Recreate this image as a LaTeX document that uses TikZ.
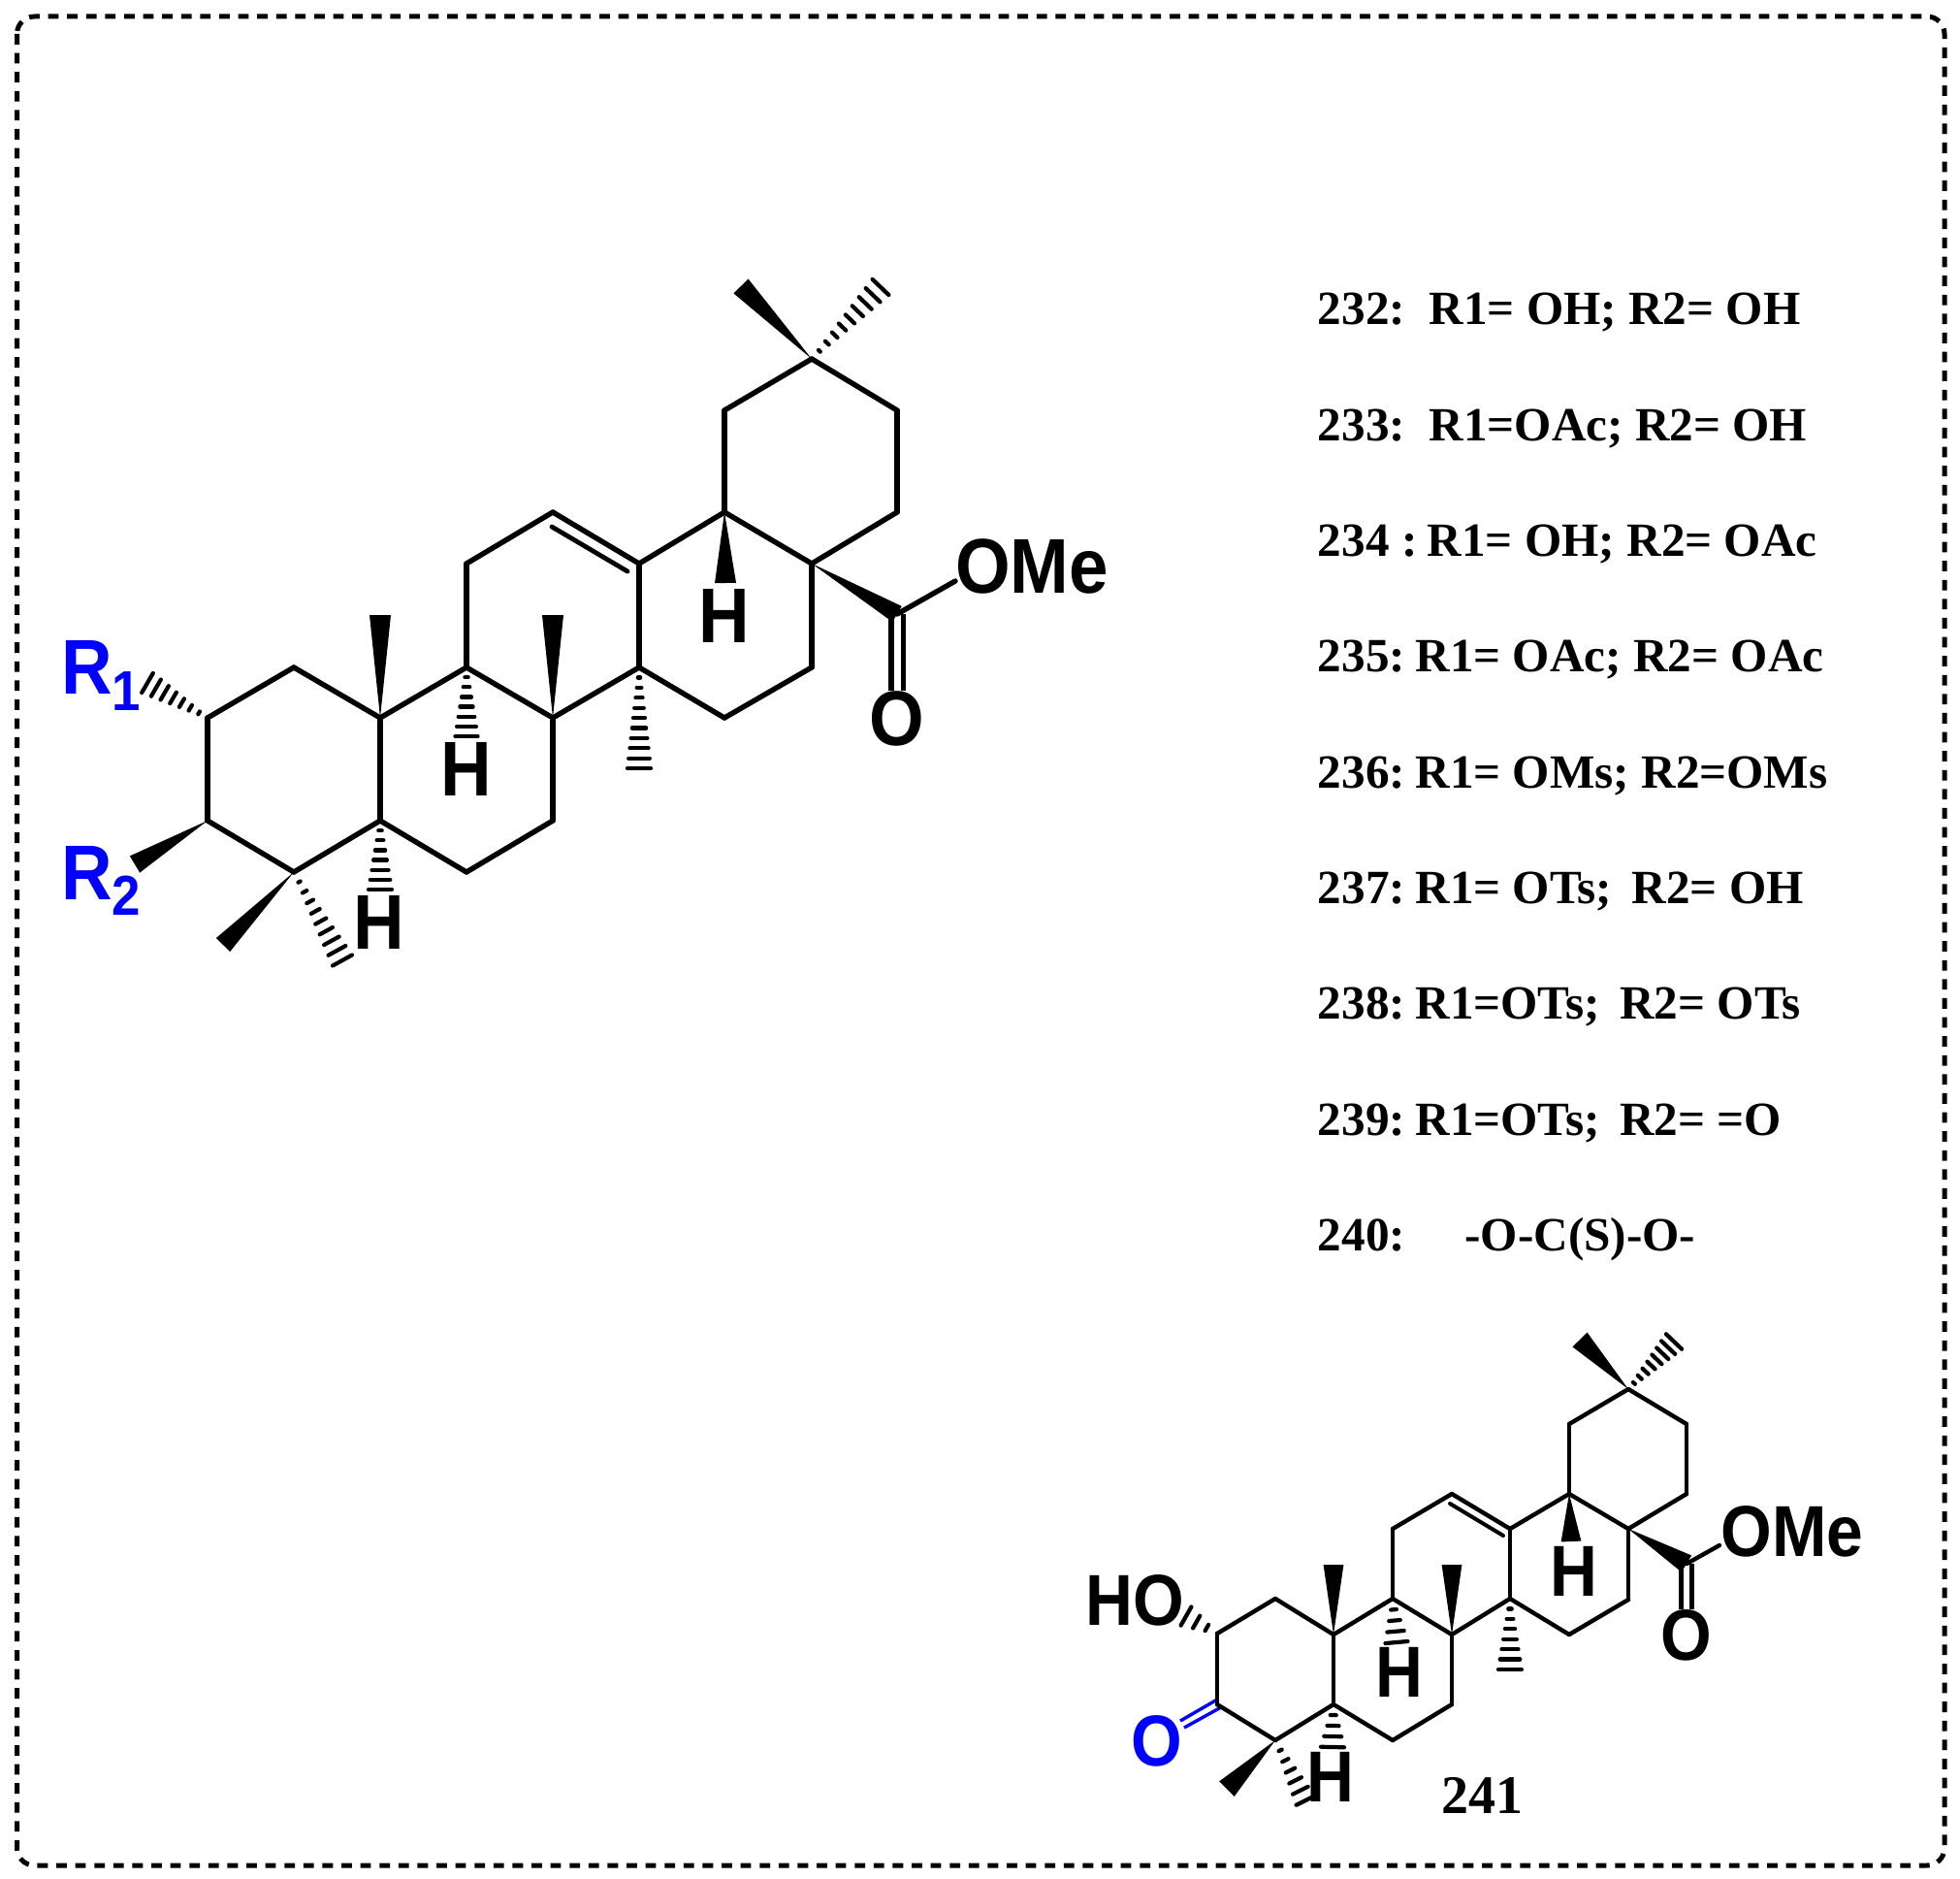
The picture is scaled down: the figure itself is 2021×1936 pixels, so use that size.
\documentclass[tikz,border=0pt]{standalone}
\usepackage{fontspec}
\setmainfont{Liberation Serif}
\newfontfamily\atomfont[FakeStretch=0.91]{Liberation Sans}
\usetikzlibrary{positioning}
\usetikzlibrary{calc}
\definecolor{hetblue}{RGB}{0,0,255}

\tikzset{
    bond/.style={line width=2.7pt, line cap=round},
    smallbond/.style={line width=2.2pt, line cap=round},
    hashline/.style={line width=2.1pt, line cap=round},
    bluebond/.style={line width=1.7pt, hetblue},
    bigatom/.style={inner sep=0pt, anchor=base, font=\atomfont\bfseries\fontsize{40}{40}\selectfont},
    smallatom/.style={inner sep=0pt, anchor=base, font=\atomfont\bfseries\fontsize{37.2}{37.2}\selectfont},
    rowtext/.style={inner sep=0pt, anchor=base west, font=\bfseries\fontsize{24.6}{24.6}\selectfont},
    frame/.style={line width=2.5pt, dash pattern=on 5.4pt off 4.4pt, rounded corners=9pt}
}
\newcommand{\gap}{\hspace{5.2pt}}

% the five rings, same for both molecules
\newcommand{\ringbonds}[2]{
    \foreach \u/\v in {c1/c2,c2/c3,c3/c4,c4/c5,c5/c10,c10/c1,c5/c6,c6/c7,c7/c8,c8/c9,c9/c10,
        c8/c14,c14/c13,c13/c12,c12/c11,c11/c9,c14/c15,c15/c16,c16/c17,c17/c18,c18/c13,
        c17/c22,c22/c21,c21/c20,c20/c19,c19/c18} {
        \draw[#2] (#1\u) -- (#1\v);
    }
}
% tip, end, half width of the end
\newcommand{\wedgebond}[3]{
    \fill (#1) -- ($(#2)!#3!90:(#1)$) -- ($(#2)!#3!-90:(#1)$) -- cycle;
}
% tip, end, half width of the end, number of stripes
\newcommand{\hashbond}[4]{
    \foreach \i in {1,...,#4} {
        \pgfmathsetmacro{\frac}{\i/#4}
        \pgfmathsetlengthmacro{\halfw}{\frac*#3}
        \coordinate (hm) at ($(#1)!\frac!(#2)$);
        \draw[hashline] ($(hm)!\halfw!90:(#1)$) -- ($(hm)!\halfw!-90:(#1)$);
    }
}

\begin{document}
\begin{tikzpicture}[x=0.5pt, y=-0.5pt]
\useasboundingbox (0,0) rectangle (2021,1936);

% Dashed frame
\draw[frame] (17.5,17) rectangle (2005,1923);

% Large molecule
\foreach \n/\px/\py in {c1/303/688,c2/214/740,c3/214/846,c4/303/899,c5/392/846,c6/481/899,
    c7/570/846,c8/570/740,c9/481/688,c10/392/740,c11/481/581,c12/570/528,c13/659/581,
    c14/659/688,c15/747/740,c16/837/688,c17/837/581,c18/747/528,c19/747/423,c20/837/370,
    c21/925/423,c22/925/528,ca/925/633,oe/985/599,
    d1/569/543,d2/647/589,me10/392/634,me8/570/634,me14/659/792,h9/481/759,h5/392/917,
    h18/748/601,r1/152/704,r2/139/891,me4a/230/974,me4b/353/990,me20a/764/295,me20b/908/296} {
    \coordinate (a\n) at (\px,\py);
}
\ringbonds{a}{bond}
\draw[bond, line width=2.4pt] (ad1) -- (ad2);
\node[bigatom] (aome) at (1064,611) {OMe};
\node[bigatom] (ao) at (925,768.5) {O};
\node[bigatom] (ahc9) at (480.5,820) {H};
\node[bigatom] (ahc5) at (391,978.5) {H};
\node[bigatom] (ahc18) at (747,662) {H};
\node[bigatom, anchor=base west, text=hetblue] (arone) at (63,715) {R{\fontsize{29}{29}\selectfont\raisebox{-8.5pt}{1}}};
\node[bigatom, anchor=base west, text=hetblue] (artwo) at (63,927) {R{\fontsize{29}{29}\selectfont\raisebox{-8pt}{2}}};
\draw[bond, line cap=butt, double, double distance=3.5pt] (aca) -- (ao.north);
\draw[bond] (aca) -- (aoe);
\wedgebond{ac10}{ame10}{5.5pt}
\wedgebond{ac8}{ame8}{5.5pt}
\wedgebond{ac3}{ar2}{5pt}
\wedgebond{ac4}{ame4a}{5pt}
\wedgebond{ac18}{ah18}{5.5pt}
\wedgebond{ac20}{ame20a}{5.3pt}
\wedgebond{ac17}{aca}{4.7pt}
\hashbond{ac2}{ar1}{5.8pt}{7}
\hashbond{ac9}{ah9}{5.8pt}{7}
\hashbond{ac5}{ah5}{6pt}{7}
\hashbond{ac14}{ame14}{6pt}{10}
\hashbond{ac4}{ame4b}{5.7pt}{9}
\hashbond{ac20}{ame20b}{5.8pt}{9}

% Small molecule
\foreach \n/\px/\py in {c1/1315/1648,c2/1255/1684,c3/1255/1757,c4/1315/1794,c5/1375/1757,
    c6/1436/1794,c7/1497/1757,c8/1497/1685,c9/1436/1648,c10/1375/1685,c11/1436/1576,
    c12/1497/1540,c13/1557/1576,c14/1557/1648,c15/1618/1685,c16/1679/1649,c17/1679/1576,
    c18/1618/1540,c19/1618/1468,c20/1679/1432,c21/1739/1468,c22/1739/1540,ca/1739/1612,oe/1773/1593,
    d1/1495/1550,d2/1550/1583,me10/1375/1613,me8/1497/1613,me14/1557/1721,h9/1440/1693,h5/1374/1801,
    h18/1620/1589,r1/1223/1666,me4a/1265/1844,me4b/1346/1856,me20a/1629/1381,me20b/1726/1383,
    o1/1255/1752,o2/1217/1774,o3/1259/1760,o4/1221/1781} {
    \coordinate (b\n) at (\px,\py);
}
\draw[bluebond] (bo1) -- (bo2);
\draw[bluebond] (bo3) -- (bo4);
\ringbonds{b}{smallbond}
\draw[smallbond, line width=2pt] (bd1) -- (bd2);
\node[smallatom] (bome) at (1848,1604) {OMe};
\node[smallatom] (bo) at (1739,1711) {O};
\node[smallatom, text=hetblue] (bob) at (1192.5,1820) {O};
\node[smallatom] (bho) at (1170,1675.5) {HO};
\draw[smallbond, line cap=butt, double, double distance=3.2pt] (bca) -- (bo.north);
\draw[smallbond] (bca) -- (boe);
\wedgebond{bc10}{bme10}{5.2pt}
\wedgebond{bc8}{bme8}{5.2pt}
\wedgebond{bc4}{bme4a}{5.5pt}
\wedgebond{bc18}{bh18}{5.2pt}
\wedgebond{bc20}{bme20a}{5.3pt}
\wedgebond{bc17}{bca}{5pt}
\hashbond{bc2}{br1}{5.5pt}{3}
\hashbond{bc9}{bh9}{5.8pt}{4}
\hashbond{bc5}{bh5}{6pt}{4}
\hashbond{bc14}{bme14}{6pt}{7}
\hashbond{bc4}{bme4b}{5.3pt}{6}
\hashbond{bc20}{bme20b}{5.6pt}{8}
\node[smallatom] (bhc9) at (1442.5,1749) {H};
\node[smallatom] (bhc5) at (1372,1857) {H};
\node[smallatom] (bhc18) at (1623,1645) {H};
\node[inner sep=0pt, anchor=base, font=\bfseries\fontsize{28}{28}\selectfont] (label) at (1528,1869.5) {241};

% Table of substituents
\foreach \row [count=\k from 0] in {{232:~~R1= OH; R2= OH},{233:~~R1=OAc; R2= OH},
    {234 :\gap R1= OH; R2= OAc},{235:\gap R1= OAc; R2= OAc},{236:\gap R1= OMs; R2=OMs},
    {237:\gap R1= OTs; \,R2= OH},{238:\gap R1=OTs; \,R2= OTs},{239:\gap R1=OTs; \,R2= =O},
    {240:~~~~~-O-C(S)-O-}} {
    \node[rowtext] (row\k) at (1358.5,335+119.3*\k) {\row};
}

\end{tikzpicture}
\end{document}
